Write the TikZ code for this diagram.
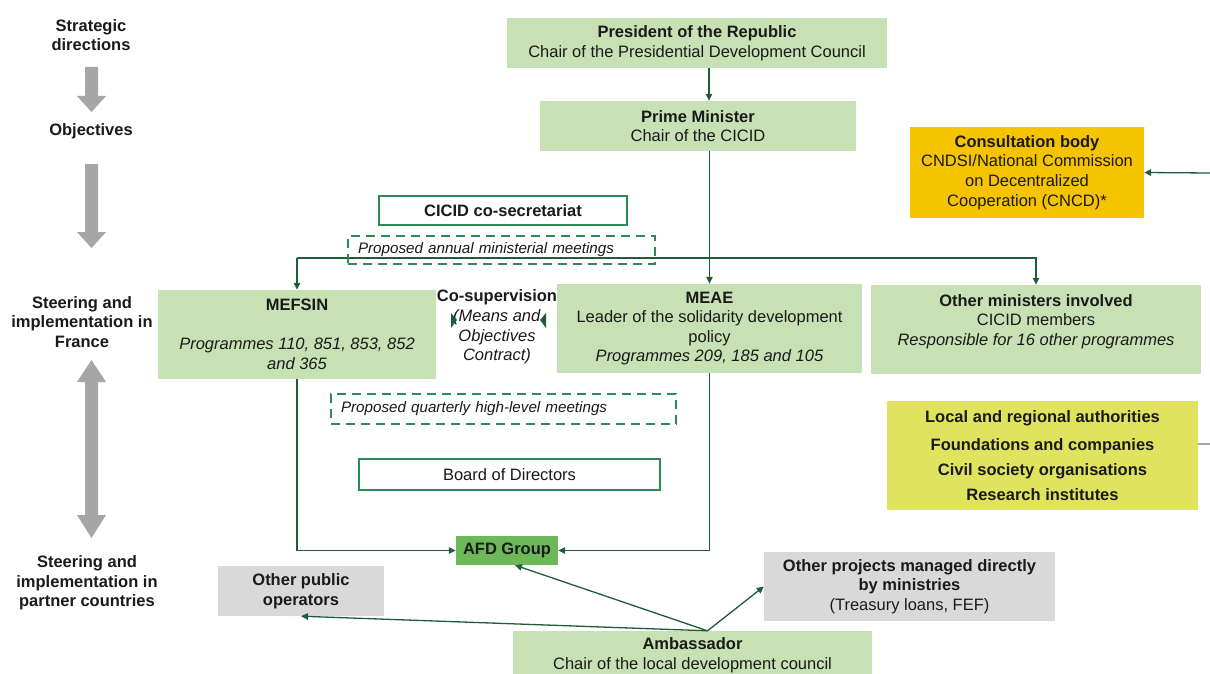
\documentclass[tikz,border=0pt]{standalone}
\usepackage{fontspec}
\setmainfont{Liberation Sans}
\usetikzlibrary{arrows.meta}
\definecolor{lgreen}{HTML}{C8E1B4}
\definecolor{afdgreen}{HTML}{6DB95A}
\definecolor{gbox}{HTML}{D9D9D9}
\definecolor{gold}{HTML}{F6C300}
\definecolor{yel}{HTML}{DFE35E}
\definecolor{bgreen}{HTML}{2F8A58}
\definecolor{conng}{HTML}{1F5C3A}
\definecolor{txt}{HTML}{1A1A1A}
\definecolor{garrow}{HTML}{A6A6A6}
\newcommand\fsz{\fontsize{16.5}{19.6}\selectfont}
\newcommand\fsi{\fontsize{15.2}{18}\selectfont}
\begin{document}
\begin{tikzpicture}[x=1pt,y=-1pt,
  box/.style={inner sep=0pt, align=center, font=\fsz, text=txt},
  grbox/.style={box, fill=lgreen},
  gybox/.style={box, fill=gbox},
  outl/.style={box, draw=bgreen, line width=2.5pt, fill=white},
  dbox/.style={box, draw=bgreen, line width=2.5pt, dash pattern=on 9pt off 6pt, font=\fsi, inner xsep=10pt, align=left},
  lab/.style={align=center, inner sep=0pt, font=\fsz\bfseries, text=txt},
  conn/.style={draw=conng, line width=1.3pt, -{Triangle[length=7pt,width=6.5pt]}},
]
\useasboundingbox (0,0) rectangle (1210,674);
\clip (0,0) rectangle (1210,674);
\fill[white] (0,0) rectangle (1210,674);

% left column
\node[lab] (l1) at (91,35) {Strategic\\directions};
\node[lab] (l2) at (91,131) {Objectives};
\node[lab] (l3) at (82,322) {Steering and\\implementation in\\France};
\node[lab] (l4) at (87,583) {Steering and\\implementation in\\partner countries};
\fill[garrow] (85,67) -- (98,67) -- (98,96) -- (106,96) -- (91.5,112) -- (77,96) -- (85,96) -- cycle;
\fill[garrow] (85,164) -- (98,164) -- (98,232) -- (106,232) -- (91.5,248) -- (77,232) -- (85,232) -- cycle;
\fill[garrow] (91.5,360) -- (106,382) -- (98,382) -- (98,515) -- (106,515) -- (91.5,538) -- (77,515) -- (85,515) -- (85,382) -- (77,382) -- cycle;

% boxes
\node[grbox, minimum width=380pt, minimum height=50pt] (pres) at (697,43)
  {\textbf{President of the Republic}\\Chair of the Presidential Development Council};
\node[grbox, minimum width=316pt, minimum height=50pt] (pm) at (698,126)
  {\textbf{Prime Minister}\\Chair of the CICID};
\node[box, fill=gold, minimum width=234pt, minimum height=91pt] (cons) at (1027,172.5)
  {\textbf{Consultation body}\\CNDSI/National Commission\\on Decentralized\\Cooperation (CNCD)*};
\node[outl, minimum width=248pt, minimum height=29pt] (cosec) at (503,210.5)
  {\textbf{CICID co-secretariat}};

\coordinate (bus) at (0,258);

\node[grbox, minimum width=278pt, minimum height=89pt] (mefsin) at (297,334.5)
  {\textbf{MEFSIN}\\[19.6pt]\textit{Programmes 110, 851, 853, 852}\\\textit{and 365}};
\node[box] (cosup) at (497,327)
  {\textbf{Co-supervision}\\\textit{(Means and}\\\textit{Objectives}\\\textit{Contract)}};
\node[grbox, minimum width=305pt, minimum height=89pt] (meae) at (709.5,328.5)
  {\textbf{MEAE}\\Leader of the solidarity development\\policy\\\textit{Programmes 209, 185 and 105}};
\node[grbox, minimum width=330pt, minimum height=89pt] (oth) at (1036,329.5)
  {\textbf{Other ministers involved}\\CICID members\\\textit{Responsible for 16 other programmes}\\\mbox{}};
\node[box, fill=yel, minimum width=311pt, minimum height=109pt] (yelb) at (1042.5,455.5)
  {\textbf{Local and regional authorities}\\[9pt]\textbf{Foundations and companies}\\[5pt]\textbf{Civil society organisations}\\[6pt]\textbf{Research institutes}};

\node[dbox, text width=325pt, minimum height=30pt] (quart) at (503.5,409)
  {\textit{Proposed quarterly high-level meetings}};
\node[outl, minimum width=301pt, minimum height=31pt] (board) at (509.5,474.5)
  {Board of Directors};
\node[box, fill=afdgreen, minimum width=102pt, minimum height=29pt] (afd) at (507,550.5)
  {\textbf{AFD Group}};
\node[gybox, minimum width=166pt, minimum height=50pt] (opo) at (301,591)
  {\textbf{Other public}\\\textbf{operators}};
\node[gybox, minimum width=291pt, minimum height=69pt] (opm) at (909.5,586.5)
  {\textbf{Other projects managed directly}\\\textbf{by ministries}\\(Treasury loans, FEF)};
\node[grbox, minimum width=359pt, minimum height=49pt] (amb) at (692.5,655.5)
  {\textbf{Ambassador}\\Chair of the local development council};

% connectors
\draw[conn] ([xshift=12pt]pres.south) -- ([xshift=12pt]pres.south |- pm.north);
\draw[conn] (pm.south -| meae.north) -- (meae.north);
\draw[conn] (mefsin.north |- bus) -- (mefsin.north);
\draw[conn] (mefsin.north |- bus) -| (oth.north);
\node[dbox, text width=287pt, minimum height=28pt] (annual) at (501.5,250)
  {\textit{Proposed annual ministerial meetings}};
\coordinate (consin) at (1210,173);
\draw[conn] (consin) -- (cons.east);
\coordinate (yout) at (1210,444);
\draw[draw=garrow, line width=1.3pt] (yelb.east |- yout) -- (yout);
\draw[conn] (mefsin.south) |- (afd.west);
\draw[conn] (meae.south) |- (afd.east);
\coordinate (ambp) at ([xshift=15pt]amb.north);
\draw[conn] (ambp) -- ([xshift=8pt]afd.south);
\draw[conn] (ambp) -- (opo.south);
\draw[conn] (ambp) -- (opm.west);

% co-supervision marks
\fill[conng] (451,313) -- (457,320) -- (451,328) -- cycle;
\fill[conng] (546,313) -- (540,320) -- (546,328) -- cycle;
\end{tikzpicture}
\end{document}
